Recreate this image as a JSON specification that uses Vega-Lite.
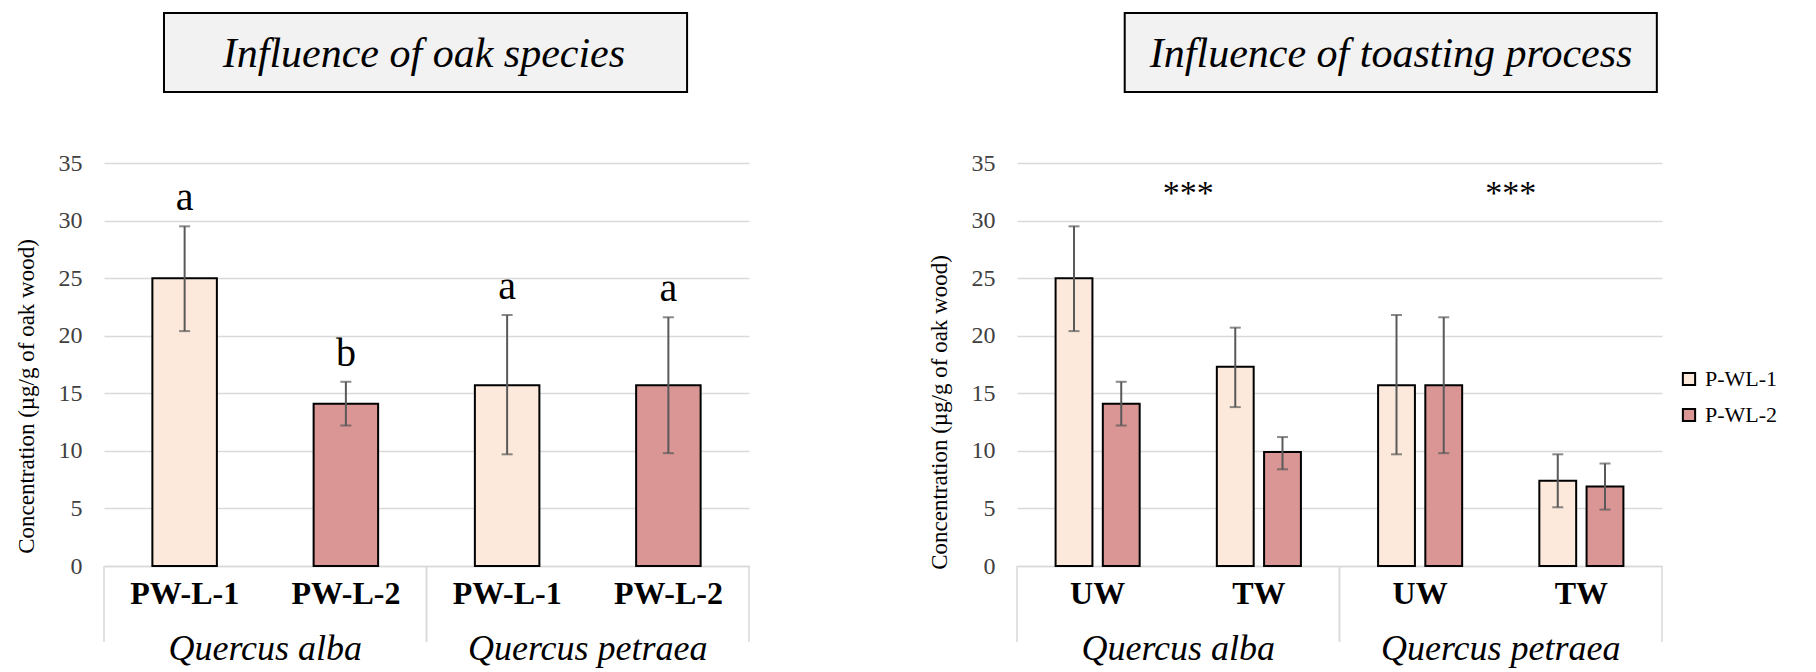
{
  "$schema": "https://vega.github.io/schema/vega-lite/v6.json",
  "background": "white",
  "padding": {"left": 15, "top": 11, "right": 0, "bottom": 0},
  "spacing": 178,
  "config": {
    "view": {"stroke": null},
    "font": "Liberation Serif, Times New Roman, DejaVu Serif, serif",
    "text": {"font": "Liberation Serif, Times New Roman, DejaVu Serif, serif"},
    "axisY": {"grid": true, "gridColor": "#d9d9d9", "gridWidth": 1.5, "domain": false, "ticks": false, "labelFont": "Liberation Serif, Times New Roman, DejaVu Serif, serif", "labelFontSize": 24, "labelColor": "#404040", "labelPadding": 22, "titleFont": "Liberation Serif, Times New Roman, DejaVu Serif, serif", "titleFontSize": 23, "titleFontWeight": "normal", "titleColor": "#000000", "titlePadding": 20},
    "axisX": {"grid": false, "domainColor": "#d9d9d9", "domainWidth": 1.5, "ticks": false, "labelFont": "Liberation Serif, Times New Roman, DejaVu Serif, serif", "labelFontSize": 32, "labelFontWeight": "bold", "labelColor": "#000000", "labelPadding": 12, "labelAngle": 0},
    "legend": {"labelFont": "Liberation Serif, Times New Roman, DejaVu Serif, serif"}
  },
  "resolve": {"scale": {"color": "independent"}, "legend": {"color": "independent"}},
  "hconcat": [
    {
      "width": 645,
      "height": 403,
      "resolve": {"scale": {"x": "independent"}},
      "layer": [
        {
          "data": {"values": [{"t": "Influence of oak species"}]},
          "layer": [
            {
              "mark": {"type": "rect", "fill": "#f2f2f2", "stroke": "#000000", "strokeWidth": 2},
              "encoding": {
                "x": {"datum": 0.093, "type": "quantitative", "scale": {"domain": [0, 1]}, "axis": null},
                "x2": {"datum": 0.904},
                "y": {"datum": 41.17, "type": "quantitative"},
                "y2": {"datum": 48.03}
              }
            },
            {
              "mark": {"type": "text", "font": "Liberation Serif, Times New Roman, DejaVu Serif, serif", "fontSize": 42, "fontStyle": "italic", "baseline": "alphabetic", "align": "center", "color": "#000000"},
              "encoding": {
                "x": {"datum": 0.496, "type": "quantitative"},
                "y": {"datum": 43.3, "type": "quantitative"},
                "text": {"field": "t"}
              }
            }
          ]
        },
        {
          "data": {"values": [{"species": "Quercus alba"}, {"species": "Quercus petraea"}]},
          "layer": [
            {
              "mark": {"type": "rule", "color": "#d9d9d9", "strokeWidth": 1.5},
              "encoding": {
                "x": {"field": "species", "type": "nominal", "bandPosition": 0, "scale": {"type": "band", "domain": ["Quercus alba", "Quercus petraea"], "paddingInner": 0, "paddingOuter": 0}, "axis": null},
                "y": {"datum": 0, "type": "quantitative"},
                "y2": {"datum": -6.6}
              }
            },
            {
              "mark": {"type": "rule", "color": "#d9d9d9", "strokeWidth": 1.5},
              "encoding": {
                "x": {"field": "species", "type": "nominal", "bandPosition": 1, "axis": null},
                "y": {"datum": 0, "type": "quantitative"},
                "y2": {"datum": -6.6}
              }
            },
            {
              "mark": {"type": "text", "font": "Liberation Serif, Times New Roman, DejaVu Serif, serif", "fontSize": 36, "fontStyle": "italic", "baseline": "alphabetic", "align": "center", "color": "#000000"},
              "encoding": {
                "x": {"field": "species", "type": "nominal", "axis": null},
                "y": {"datum": -8.2, "type": "quantitative"},
                "text": {"field": "species"}
              }
            }
          ]
        },
        {
          "data": {"values": [
            {"species": "Quercus alba", "sample": "PW-L-1", "key": "Quercus alba|PW-L-1", "mean": 25.0, "lo": 20.4, "hi": 29.5, "letter": "a"},
            {"species": "Quercus alba", "sample": "PW-L-2", "key": "Quercus alba|PW-L-2", "mean": 14.1, "lo": 12.2, "hi": 16.0, "letter": "b"},
            {"species": "Quercus petraea", "sample": "PW-L-1", "key": "Quercus petraea|PW-L-1", "mean": 15.7, "lo": 9.7, "hi": 21.8, "letter": "a"},
            {"species": "Quercus petraea", "sample": "PW-L-2", "key": "Quercus petraea|PW-L-2", "mean": 15.7, "lo": 9.8, "hi": 21.6, "letter": "a"}
          ]},
          "encoding": {
            "x": {"field": "key", "type": "nominal", "sort": null, "scale": {"domain": ["Quercus alba|PW-L-1", "Quercus alba|PW-L-2", "Quercus petraea|PW-L-1", "Quercus petraea|PW-L-2"], "paddingInner": 0.6, "paddingOuter": 0.3}, "axis": {"title": null, "orient": "bottom", "labelExpr": "split(datum.value, '|')[1]"}}
          },
          "layer": [
            {
              "mark": {"type": "bar", "stroke": "#000000", "strokeWidth": 2},
              "encoding": {
                "y": {"field": "mean", "type": "quantitative", "scale": {"domain": [0, 35], "nice": false}, "axis": {"title": "Concentration (µg/g of oak wood)", "values": [0, 5, 10, 15, 20, 25, 30, 35], "titleY": 233}},
                "color": {"field": "sample", "type": "nominal", "scale": {"domain": ["PW-L-1", "PW-L-2"], "range": ["#FCE9DB", "#D99694"]}, "legend": null}
              }
            },
            {
              "mark": {"type": "rule", "color": "#595959", "strokeWidth": 2},
              "encoding": {"y": {"field": "lo", "type": "quantitative"}, "y2": {"field": "hi"}}
            },
            {
              "mark": {"type": "tick", "orient": "horizontal", "size": 11, "thickness": 2, "color": "#595959"},
              "encoding": {"y": {"field": "lo", "type": "quantitative"}}
            },
            {
              "mark": {"type": "tick", "orient": "horizontal", "size": 11, "thickness": 2, "color": "#595959"},
              "encoding": {"y": {"field": "hi", "type": "quantitative"}}
            },
            {
              "mark": {"type": "text", "font": "Liberation Serif, Times New Roman, DejaVu Serif, serif", "fontSize": 40, "baseline": "alphabetic", "align": "center", "dy": -16, "color": "#000000"},
              "encoding": {"y": {"field": "hi", "type": "quantitative"}, "text": {"field": "letter"}}
            }
          ]
        }
      ]
    },
    {
      "width": 645,
      "height": 403,
      "resolve": {"scale": {"x": "independent"}},
      "layer": [
        {
          "data": {"values": [{"t": "Influence of toasting process"}]},
          "layer": [
            {
              "mark": {"type": "rect", "fill": "#f2f2f2", "stroke": "#000000", "strokeWidth": 2},
              "encoding": {
                "x": {"datum": 0.167, "type": "quantitative", "scale": {"domain": [0, 1]}, "axis": null},
                "x2": {"datum": 0.992},
                "y": {"datum": 41.17, "type": "quantitative"},
                "y2": {"datum": 48.03}
              }
            },
            {
              "mark": {"type": "text", "font": "Liberation Serif, Times New Roman, DejaVu Serif, serif", "fontSize": 42, "fontStyle": "italic", "baseline": "alphabetic", "align": "center", "color": "#000000"},
              "encoding": {
                "x": {"datum": 0.58, "type": "quantitative"},
                "y": {"datum": 43.3, "type": "quantitative"},
                "text": {"field": "t"}
              }
            }
          ]
        },
        {
          "data": {"values": [{"species": "Quercus alba", "sig": "***"}, {"species": "Quercus petraea", "sig": "***"}]},
          "layer": [
            {
              "mark": {"type": "rule", "color": "#d9d9d9", "strokeWidth": 1.5},
              "encoding": {
                "x": {"field": "species", "type": "nominal", "bandPosition": 0, "scale": {"type": "band", "domain": ["Quercus alba", "Quercus petraea"], "paddingInner": 0, "paddingOuter": 0}, "axis": null},
                "y": {"datum": 0, "type": "quantitative"},
                "y2": {"datum": -6.6}
              }
            },
            {
              "mark": {"type": "rule", "color": "#d9d9d9", "strokeWidth": 1.5},
              "encoding": {
                "x": {"field": "species", "type": "nominal", "bandPosition": 1, "axis": null},
                "y": {"datum": 0, "type": "quantitative"},
                "y2": {"datum": -6.6}
              }
            },
            {
              "mark": {"type": "text", "font": "Liberation Serif, Times New Roman, DejaVu Serif, serif", "fontSize": 36, "fontStyle": "italic", "baseline": "alphabetic", "align": "center", "color": "#000000"},
              "encoding": {
                "x": {"field": "species", "type": "nominal", "axis": null},
                "y": {"datum": -8.2, "type": "quantitative"},
                "text": {"field": "species"}
              }
            },
            {
              "mark": {"type": "text", "font": "Liberation Serif, Times New Roman, DejaVu Serif, serif", "fontSize": 34, "baseline": "alphabetic", "align": "center", "dx": 10, "color": "#000000"},
              "encoding": {
                "x": {"field": "species", "type": "nominal", "axis": null},
                "y": {"datum": 31.4, "type": "quantitative"},
                "text": {"field": "sig"}
              }
            }
          ]
        },
        {
          "data": {"values": [
            {"species": "Quercus alba", "wood": "UW", "key": "Quercus alba|UW", "series": "P-WL-1", "mean": 25.0, "lo": 20.4, "hi": 29.5},
            {"species": "Quercus alba", "wood": "UW", "key": "Quercus alba|UW", "series": "P-WL-2", "mean": 14.1, "lo": 12.2, "hi": 16.0},
            {"species": "Quercus alba", "wood": "TW", "key": "Quercus alba|TW", "series": "P-WL-1", "mean": 17.3, "lo": 13.8, "hi": 20.7},
            {"species": "Quercus alba", "wood": "TW", "key": "Quercus alba|TW", "series": "P-WL-2", "mean": 9.9, "lo": 8.4, "hi": 11.2},
            {"species": "Quercus petraea", "wood": "UW", "key": "Quercus petraea|UW", "series": "P-WL-1", "mean": 15.7, "lo": 9.7, "hi": 21.8},
            {"species": "Quercus petraea", "wood": "UW", "key": "Quercus petraea|UW", "series": "P-WL-2", "mean": 15.7, "lo": 9.8, "hi": 21.6},
            {"species": "Quercus petraea", "wood": "TW", "key": "Quercus petraea|TW", "series": "P-WL-1", "mean": 7.4, "lo": 5.1, "hi": 9.7},
            {"species": "Quercus petraea", "wood": "TW", "key": "Quercus petraea|TW", "series": "P-WL-2", "mean": 6.9, "lo": 4.9, "hi": 8.9}
          ]},
          "encoding": {
            "x": {"field": "key", "type": "nominal", "sort": null, "scale": {"domain": ["Quercus alba|UW", "Quercus alba|TW", "Quercus petraea|UW", "Quercus petraea|TW"], "paddingInner": 0.42, "paddingOuter": 0.21}, "axis": {"title": null, "orient": "bottom", "labelExpr": "split(datum.value, '|')[1]"}},
            "xOffset": {"field": "series", "type": "nominal", "scale": {"domain": ["P-WL-1", "P-WL-2"], "paddingInner": 0.22, "paddingOuter": 0.1}}
          },
          "layer": [
            {
              "mark": {"type": "bar", "stroke": "#000000", "strokeWidth": 2},
              "encoding": {
                "y": {"field": "mean", "type": "quantitative", "scale": {"domain": [0, 35], "nice": false}, "axis": {"title": "Concentration (µg/g of oak wood)", "values": [0, 5, 10, 15, 20, 25, 30, 35], "titleY": 249}},
                "color": {"field": "series", "type": "nominal", "scale": {"domain": ["P-WL-1", "P-WL-2"], "range": ["#FCE9DB", "#D99694"]}, "legend": {"title": null, "orient": "none", "legendX": 661, "legendY": 205, "symbolType": "square", "symbolSize": 150, "symbolStrokeColor": "#000000", "symbolStrokeWidth": 2, "labelFont": "Liberation Serif, Times New Roman, DejaVu Serif, serif", "labelFontSize": 22, "labelColor": "#000000", "rowPadding": 14, "labelOffset": 5}}
              }
            },
            {
              "mark": {"type": "rule", "color": "#595959", "strokeWidth": 2},
              "encoding": {"y": {"field": "lo", "type": "quantitative"}, "y2": {"field": "hi"}}
            },
            {
              "mark": {"type": "tick", "orient": "horizontal", "size": 11, "thickness": 2, "color": "#595959"},
              "encoding": {"y": {"field": "lo", "type": "quantitative"}}
            },
            {
              "mark": {"type": "tick", "orient": "horizontal", "size": 11, "thickness": 2, "color": "#595959"},
              "encoding": {"y": {"field": "hi", "type": "quantitative"}}
            }
          ]
        }
      ]
    }
  ]
}
